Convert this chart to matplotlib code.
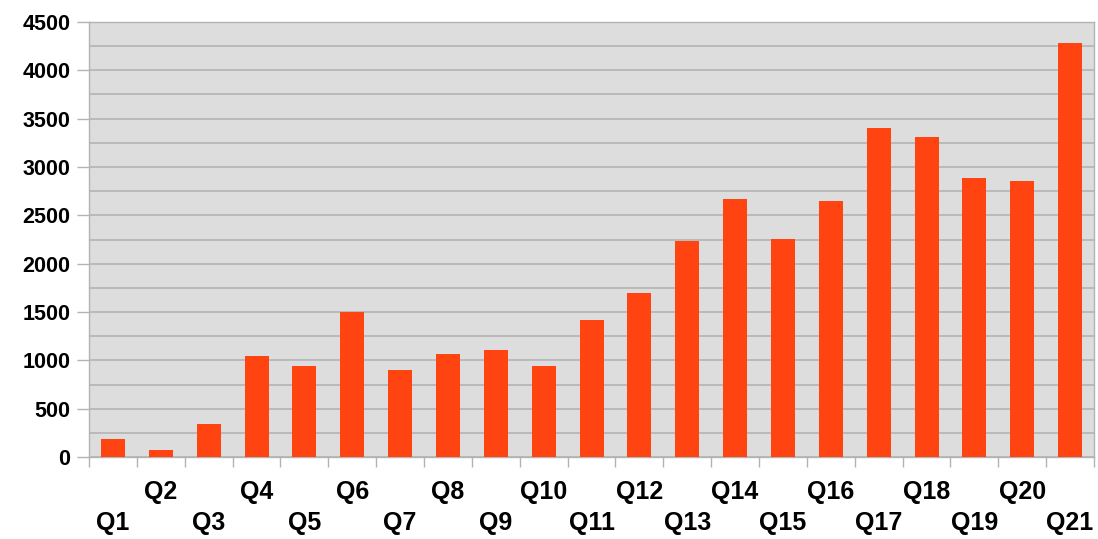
import numpy as np
import matplotlib
matplotlib.use('Agg')
import matplotlib.pyplot as plt
import matplotlib.transforms as mtransforms

quarters = ['Q%d' % i for i in range(1, 22)]
values = [185, 70, 340, 1045, 940, 1500, 900, 1065, 1105, 940, 1420,
          1700, 2235, 2670, 2255, 2650, 3400, 3310, 2885, 2855, 4280]
yticks = [0, 500, 1000, 1500, 2000, 2500, 3000, 3500, 4000, 4500]

plt.rcParams['font.family'] = ['Liberation Sans', 'DejaVu Sans']
plt.rcParams['font.weight'] = 'bold'

fig = plt.figure(figsize=(10.98, 5.39), dpi=100)
ax = fig.add_axes([0.0811, 0.1521, 0.9153, 0.8071])
ax.set_facecolor('#DDDDDD')

x = np.arange(len(quarters))
ax.bar(x, values, width=0.5, color='#FF4412', zorder=3)

ax.set_xlim(-0.5, len(quarters) - 0.5)
ax.set_ylim(0, 4500)
ax.set_yticks(yticks)
ax.set_yticklabels([str(v) for v in yticks], fontsize=15.5, fontweight='bold')
ax.set_yticks(np.arange(0, 4501, 250), minor=True)
ax.yaxis.grid(True, which='both', color='#B3B3B3', linewidth=1.2, zorder=0)
ax.tick_params(axis='y', which='major', length=8.5, width=1, color='#B3B3B3', pad=5)
ax.tick_params(axis='y', which='minor', length=0)

# category boundary ticks on x, labels placed as staggered text
ax.set_xticks(np.arange(-0.5, len(quarters), 1.0))
ax.set_xticklabels([])
ax.tick_params(axis='x', length=7.5, width=1, color='#B3B3B3')

trans = mtransforms.blended_transform_factory(ax.transData, ax.transAxes)
for i, q in enumerate(quarters):
    yy = -0.081 if i % 2 == 1 else -0.152
    ax.text(i, yy, q, transform=trans, ha='center', va='center',
            fontsize=18, fontweight='bold')

for s in ax.spines.values():
    s.set_color('#B3B3B3')
    s.set_linewidth(1)

plt.savefig('out.png', dpi=100)
